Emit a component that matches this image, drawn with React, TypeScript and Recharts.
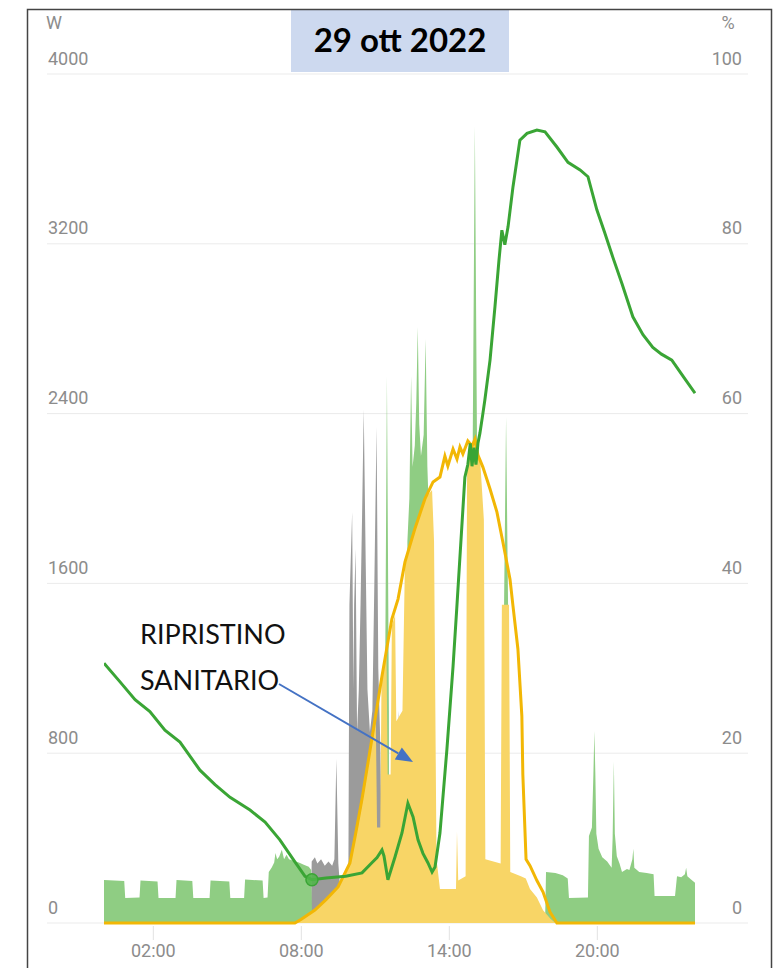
import React from 'react';
import { ComposedChart, Area, Line, XAxis, YAxis, CartesianGrid, ReferenceDot } from 'recharts';

const hourTicks = [2, 8, 14, 20];
const hourLabels = ['02:00', '08:00', '14:00', '20:00'];
const wattTicks = [0, 800, 1600, 2400, 3200, 4000];
const pctTicks = [0, 20, 40, 60, 80, 100];

const chartTitle = '29 ott 2022';
const noteLines = ['RIPRISTINO', 'SANITARIO'];

// [hour, W] grid import (green area)
const importSeries: [number, number][] = [
  [0, 203], [0.82, 198], [0.86, 118], [1.44, 120], [1.48, 200], [2.17, 196], [2.21, 118], [2.9, 118],
  [2.94, 203], [3.58, 198], [3.62, 118], [4.28, 118], [4.32, 200], [5.08, 195], [5.12, 118], [5.68, 118],
  [5.72, 205], [6.43, 200], [6.47, 118], [6.63, 120], [6.68, 240], [6.8, 262], [6.9, 285], [6.95, 330],
  [7.02, 300], [7.1, 312], [7.21, 345], [7.3, 300], [7.4, 322], [7.5, 300], [7.7, 292], [7.9, 285],
  [8.1, 275], [8.3, 265], [8.4, 250], [8.44, 0], [11.38, 0], [11.39, 1000], [11.47, 2577], [11.55, 1000],
  [11.56, 0], [12.25, 0],
  [12.3, 1800], [12.38, 2000], [12.45, 2577], [12.51, 2150], [12.6, 2250], [12.66, 2450], [12.72, 2808],
  [12.78, 2350], [12.85, 2200], [12.96, 2300], [13.04, 2751], [13.11, 2150], [13.18, 1900], [13.28, 1200],
  [13.32, 0], [14.94, 0], [14.95, 2300], [15.035, 3755], [15.12, 2300], [15.13, 0], [16.2, 0],
  [16.21, 1400], [16.3, 2384], [16.39, 1400], [16.4, 0], [17.88, 0],
  [17.92, 240], [18.3, 235], [18.6, 225], [18.8, 210], [18.85, 118], [19.62, 120], [19.66, 410], [19.78, 450],
  [19.84, 700], [19.88, 905], [19.92, 700], [19.96, 420], [20.05, 350], [20.2, 310], [20.4, 290], [20.58, 260],
  [20.62, 400], [20.67, 760], [20.71, 420], [20.79, 315], [20.9, 280], [21.0, 240], [21.2, 255], [21.3, 250],
  [21.42, 300], [21.46, 350], [21.5, 260], [21.7, 240], [22.0, 235], [22.28, 230], [22.32, 127], [23.15, 127],
  [23.23, 220], [23.4, 215], [23.55, 230], [23.6, 260], [23.65, 220], [23.8, 205], [23.96, 190],
];

// [hour, W] battery (grey area)
const batterySeries: [number, number][] = [
  [0, 0], [8.38, 0], [8.42, 290], [8.55, 310], [8.65, 280], [8.8, 300], [8.95, 270], [9.1, 290],
  [9.25, 270], [9.34, 300], [9.42, 773], [9.5, 280], [9.55, 200], [9.62, 0], [9.9, 0], [9.95, 1500],
  [10.06, 1936], [10.11, 1100], [10.14, 1500], [10.2, 1762], [10.26, 900], [10.33, 1100], [10.4, 1500],
  [10.46, 1900], [10.53, 2421], [10.61, 1700], [10.68, 1100], [10.78, 900], [10.88, 1000], [10.96, 1600],
  [11.05, 2337], [11.12, 1200], [11.2, 850], [11.3, 0], [11.88, 0], [11.95, 1000], [12.05, 750], [12.1, 0],
  [23.96, 0],
];

// [hour, W] solar self-use (yellow area)
const selfUseSeries: [number, number][] = [
  [0, 0], [7.74, 0], [8.0, 20], [8.55, 61], [9.0, 110], [9.49, 170], [9.97, 270], [10.2, 400],
  [10.46, 560], [10.7, 730], [10.86, 850], [11.02, 950], [11.07, 450], [11.2, 450], [11.25, 1130],
  [11.45, 1300], [11.5, 700], [11.62, 700], [11.67, 1400], [11.8, 1450], [11.85, 950], [12.1, 1000],
  [12.2, 1700], [12.6, 1856], [13.0, 1998], [13.3, 2040], [13.38, 1800], [13.48, 300], [13.62, 160],
  [14.27, 160], [14.31, 430], [14.36, 200], [14.66, 220], [14.72, 2150], [14.96, 2270], [15.25, 2180],
  [15.4, 1900], [15.46, 300], [16.08, 280], [16.13, 1500], [16.42, 1500], [16.47, 240], [16.9, 220],
  [17.1, 210], [17.27, 160], [17.55, 120], [17.8, 60], [18.1, 20], [18.3, 0], [23.96, 0],
];

// [hour, W] PV production (yellow line)
const pvSeries: [number, number][] = [
  [0, 0], [7.74, 0], [8.0, 18], [8.55, 61], [9.0, 110], [9.49, 170], [9.97, 283], [10.2, 420],
  [10.46, 584], [10.86, 867], [11.27, 1164], [11.67, 1432], [11.92, 1526], [12.2, 1700], [12.6, 1856],
  [13.01, 1998], [13.34, 2078], [13.62, 2101], [13.82, 2200], [13.94, 2153], [14.15, 2233], [14.31, 2186],
  [14.43, 2243], [14.55, 2210], [14.75, 2271], [14.92, 2247], [15.04, 2280], [15.16, 2205], [15.36, 2148],
  [15.65, 2045], [15.93, 1936], [16.17, 1795], [16.46, 1620], [16.58, 1494], [16.78, 1291], [16.94, 975],
  [16.98, 700], [17.11, 300], [17.27, 270], [17.55, 200], [17.8, 146], [18.08, 52], [18.36, 0], [23.96, 0],
];

// [hour, %] battery state of charge (green line)
const socSeries: [number, number][] = [
  [0, 30.6], [0.65, 28.4], [1.26, 26.3], [1.86, 24.9], [2.47, 22.7], [3.08, 21.3], [3.89, 18.0], [4.5, 16.3],
  [5.11, 14.8], [5.92, 13.3], [6.53, 11.9], [7.13, 9.8], [7.74, 7.2], [8.15, 5.5], [8.43, 5.1], [9.0, 5.3],
  [9.8, 5.5], [10.46, 5.9], [10.86, 7.1], [11.07, 7.7], [11.27, 8.6], [11.35, 7.9], [11.51, 5.1], [11.8, 7.8],
  [12.08, 10.6], [12.32, 14.1], [12.53, 12.5], [12.73, 9.8], [12.93, 8.2], [13.13, 7.1], [13.3, 6.0],
  [13.42, 6.6], [13.62, 10.6], [13.9, 20.4], [14.15, 30.2], [14.3, 37], [14.63, 52.5], [14.75, 54],
  [14.85, 56.5], [14.92, 53.8], [15.0, 56], [15.08, 54], [15.16, 56.5], [15.24, 57.7], [15.36, 60],
  [15.44, 61.6], [15.65, 66.3], [15.85, 72.6], [16.01, 78], [16.13, 81.6], [16.25, 79.9], [16.38, 82],
  [16.58, 86.7], [16.86, 92.2], [17.15, 93], [17.55, 93.4], [17.88, 93.2], [18.36, 91.4], [18.81, 89.6],
  [19.3, 88.7], [19.62, 87.9], [19.98, 84], [20.3, 81.3], [20.63, 78.4], [21.0, 75.3], [21.44, 71.4],
  [21.85, 69.3], [22.25, 67.8], [22.6, 67], [23.02, 66.3], [23.5, 64.3], [23.96, 62.4],
];

const markerPoint: [number, number] = [8.43, 5.1];

const toRows = (s: [number, number][]) => s.map(([t, v]) => ({ t, v }));

const W = 777;
const H = 968;
const LEFT = 47;
const RIGHT = 748;
const LABEL_COLOR = '#8c8c8c';
const LABEL_SIZE = 18;

const LeftTick = (props: any) => (
  <text x={LEFT + 1} y={props.y - 9.5} fill={LABEL_COLOR} fontSize={LABEL_SIZE} fontFamily="Roboto" textAnchor="start">
    {props.payload.value}
  </text>
);

const RightTick = (props: any) => (
  <text x={RIGHT - 6} y={props.y - 9.5} fill={LABEL_COLOR} fontSize={LABEL_SIZE} fontFamily="Roboto" textAnchor="end">
    {props.payload.value}
  </text>
);

const HourTick = (props: any) => {
  const { x, y, payload } = props;
  const i = hourTicks.indexOf(payload.value);
  return (
    <g>
      <line x1={x} x2={x} y1={y + 1} y2={y + 15} stroke="#e2e2e2" strokeWidth={1} />
      <text x={x} y={y + 32} fill={LABEL_COLOR} fontSize={LABEL_SIZE} fontFamily="Roboto" textAnchor="middle">
        {hourLabels[i]}
      </text>
    </g>
  );
};

function Arrow({ x1, y1, x2, y2 }: { x1: number; y1: number; x2: number; y2: number }) {
  const dx = x2 - x1;
  const dy = y2 - y1;
  const len = Math.hypot(dx, dy);
  const ux = dx / len;
  const uy = dy / len;
  const hl = 17;
  const hw = 7;
  const bx = x2 - ux * hl;
  const by = y2 - uy * hl;
  const pts = `${x2},${y2} ${bx - uy * hw},${by + ux * hw} ${bx + uy * hw},${by - ux * hw}`;
  return (
    <g>
      <line x1={x1} y1={y1} x2={bx} y2={by} stroke="#4472c4" strokeWidth={2} />
      <polygon points={pts} fill="#4472c4" />
    </g>
  );
}

export default function App() {
  return (
    <div style={{ position: 'fixed', left: 0, top: 0, width: W, height: H, background: '#fff', overflow: 'hidden' }}>
      <ComposedChart width={W} height={H} margin={{ top: 74, right: W - RIGHT - 1, bottom: 15, left: LEFT - 1 }}>
        <CartesianGrid vertical={false} stroke="#ebebeb" yAxisId="w" />
        <XAxis
          type="number"
          dataKey="t"
          domain={[0, 24]}
          ticks={hourTicks}
          interval={0}
          padding={{ left: 57, right: 52 }}
          axisLine={false}
          tickLine={false}
          tickSize={0}
          height={30}
          tick={<HourTick />}
          allowDataOverflow
        />
        <YAxis
          yAxisId="w"
          domain={[0, 4000]}
          ticks={wattTicks}
          interval={0}
          width={1}
          axisLine={false}
          tickLine={false}
          tickSize={0}
          tick={<LeftTick />}
        />
        <YAxis
          yAxisId="pct"
          orientation="right"
          domain={[0, 100]}
          ticks={pctTicks}
          interval={0}
          width={1}
          axisLine={false}
          tickLine={false}
          tickSize={0}
          tick={<RightTick />}
        />
        <Area
          yAxisId="w"
          data={toRows(batterySeries)}
          dataKey="v"
          type="linear"
          stroke="none"
          fill="#9b9b9b"
          fillOpacity={1}
          isAnimationActive={false}
        />
        <Area
          yAxisId="w"
          data={toRows(importSeries)}
          dataKey="v"
          type="linear"
          stroke="none"
          fill="#8fcd83"
          fillOpacity={1}
          isAnimationActive={false}
        />
        <Area
          yAxisId="w"
          data={toRows(selfUseSeries)}
          dataKey="v"
          type="linear"
          stroke="none"
          fill="#f8d566"
          fillOpacity={1}
          isAnimationActive={false}
        />
        <Line
          yAxisId="w"
          data={toRows(pvSeries)}
          dataKey="v"
          type="linear"
          stroke="#f2b705"
          strokeWidth={3}
          dot={false}
          isAnimationActive={false}
        />
        <Line
          yAxisId="pct"
          data={toRows(socSeries)}
          dataKey="v"
          type="linear"
          stroke="#3aa535"
          strokeWidth={3}
          dot={false}
          isAnimationActive={false}
        />
        <ReferenceDot
          yAxisId="pct"
          x={markerPoint[0]}
          y={markerPoint[1]}
          r={6}
          fill="#4fb548"
          fillOpacity={0.85}
          stroke="#3aa535"
          strokeWidth={1.5}
        />
      </ComposedChart>
      <svg width={W} height={H} style={{ position: 'absolute', left: 0, top: 0, pointerEvents: 'none' }}>
        <text x={54} y={29} fill={LABEL_COLOR} fontSize={LABEL_SIZE} fontFamily="Roboto" textAnchor="middle">W</text>
        <text x={728} y={29} fill={LABEL_COLOR} fontSize={LABEL_SIZE} fontFamily="Roboto" textAnchor="middle">%</text>
        <rect x={291} y={9} width={218} height={63} fill="#cdd9ef" />
        <text x={400} y={52} fill="#000" fontSize={33} fontWeight="bold" fontFamily="Lato" textAnchor="middle">
          {chartTitle}
        </text>
        <text x={140} y={644} fill="#111" fontSize={27} fontFamily="Lato">{noteLines[0]}</text>
        <text x={140} y={690} fill="#111" fontSize={27} fontFamily="Lato">{noteLines[1]}</text>
        <Arrow x1={279} y1={684} x2={413} y2={762} />
        <path d="M27.5,968 L27.5,9.5 L771.5,9.5 L771.5,968" fill="none" stroke="#444" strokeWidth={1.5} />
      </svg>
    </div>
  );
}
